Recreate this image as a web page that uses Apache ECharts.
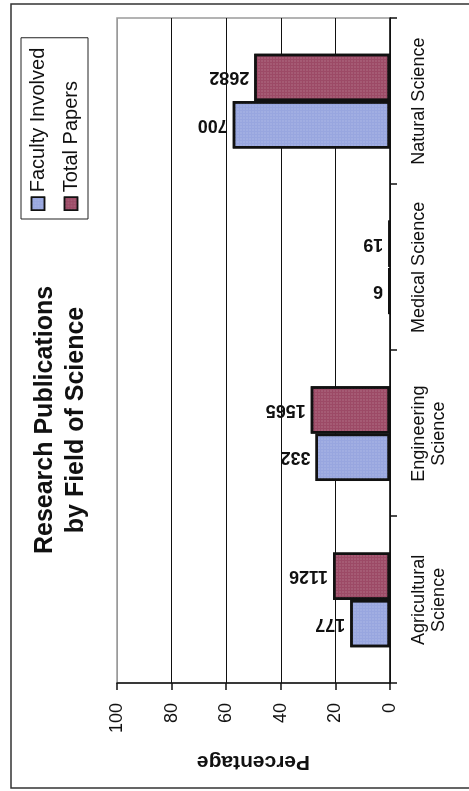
<!DOCTYPE html>
<html>
<head>
<meta charset="utf-8">
<script src="https://cdn.jsdelivr.net/npm/echarts@6/dist/echarts.min.js"></script>
<style>
  html, body { margin: 0; padding: 0; background: #ffffff; overflow: hidden; }
  body { width: 469px; height: 791px; position: relative; }
  /* The chart is laid out landscape and turned a quarter turn onto the portrait page */
  #chart {
    position: absolute; left: 0; top: 0;
    width: 791px; height: 469px;
    transform-origin: 0 0;
    transform: translateY(791px) rotate(-90deg);
  }
</style>
</head>
<body>
<div id="chart"></div>
<script>
// Fields of science (category axis)
const categories = ['Agricultural\nScience', 'Engineering\nScience', 'Medical Science', 'Natural Science'];
// Counts printed above the bars
const facultyInvolved = [177, 332, 6, 700];
const totalPapers = [1126, 1565, 19, 2682];
// Percentage axis ticks
const percentTicks = [0, 20, 40, 60, 80, 100];

const seriesNames = ['Faculty Involved', 'Total Papers'];
const FONT = "'Liberation Sans', Arial, Helvetica, sans-serif";

// Each bar is the field's share (%) of its series total
function shareOf(counts) {
  const total = counts.reduce((a, b) => a + b, 0);
  return counts.map(c => c / total * 100);
}

// Fine dotted fill on the bars
const dots = {
  symbol: 'circle',
  symbolSize: 0.8,
  dashArrayX: [2, 1],
  dashArrayY: [2, 1],
  color: 'rgba(255,255,255,0.22)'
};

function barSeries(name, counts, color) {
  return {
    name: name,
    type: 'bar',
    data: shareOf(counts),
    barGap: '0%',
    barCategoryGap: '43%',
    itemStyle: { color: color, borderColor: '#111', borderWidth: 2.5, decal: dots },
    label: {
      show: true,
      position: 'top',
      rotate: 90,
      align: 'left',
      verticalAlign: 'middle',
      distance: 5,
      color: '#111',
      fontFamily: FONT,
      fontWeight: 'bold',
      fontSize: 18,
      formatter: p => String(counts[p.dataIndex])
    }
  };
}

const chart = echarts.init(document.getElementById('chart'), null, { renderer: 'canvas' });

chart.setOption({
  backgroundColor: '#ffffff',
  animation: false,
  title: {
    text: 'Research Publications\nby Field of Science',
    left: 366,
    textAlign: 'center',
    top: 25,
    textStyle: {
      fontFamily: FONT, fontSize: 25, fontWeight: 'bold', lineHeight: 31, color: '#111'
    }
  },
  legend: {
    orient: 'vertical',
    left: 572,
    top: 21,
    padding: [7, 10, 7, 8],
    itemGap: 13,
    itemWidth: 13,
    itemHeight: 13,
    icon: 'rect',
    borderColor: '#222',
    borderWidth: 1,
    textStyle: { fontFamily: FONT, fontSize: 20, color: '#111' },
    itemStyle: { borderColor: '#111', borderWidth: 1.5 },
    data: seriesNames
  },
  grid: {
    left: 108, right: 18, top: 117, bottom: 79,
    show: true, borderColor: '#9a9a9a', borderWidth: 1.5, backgroundColor: 'transparent'
  },
  xAxis: {
    type: 'category',
    data: categories,
    axisLine: { lineStyle: { color: '#111', width: 1.5 } },
    axisTick: { show: true, length: 7, lineStyle: { color: '#111', width: 1.5 } },
    axisLabel: {
      margin: 19, color: '#111', fontFamily: FONT, fontSize: 18, lineHeight: 20,
      interval: 0
    }
  },
  yAxis: {
    type: 'value',
    min: percentTicks[0],
    max: percentTicks[percentTicks.length - 1],
    interval: percentTicks[1] - percentTicks[0],
    name: 'Percentage',
    nameLocation: 'middle',
    nameGap: 68,
    nameTextStyle: { fontFamily: FONT, fontSize: 21, fontWeight: 'bold', color: '#111' },
    axisLine: { show: true, lineStyle: { color: '#111', width: 1.5 } },
    axisTick: { show: true, length: 7, lineStyle: { color: '#111', width: 1.5 } },
    axisLabel: {
      margin: 20, color: '#111', fontFamily: FONT, fontSize: 18,
      formatter: v => percentTicks.indexOf(v) >= 0 ? String(v) : ''
    },
    splitLine: {
      show: true,
      lineStyle: { color: ['#111', '#111', '#111', '#111', '#111', '#9a9a9a'], width: 1.2 }
    }
  },
  graphic: [{
    type: 'rect',
    z: -1,
    shape: { x: 3, y: 11, width: 784, height: 480 },
    style: { fill: 'none', stroke: '#333', lineWidth: 1.5 },
    silent: true
  }],
  series: [
    barSeries(seriesNames[0], facultyInvolved, '#98a6df'),
    barSeries(seriesNames[1], totalPapers, '#9c4a66')
  ]
});
</script>
</body>
</html>
